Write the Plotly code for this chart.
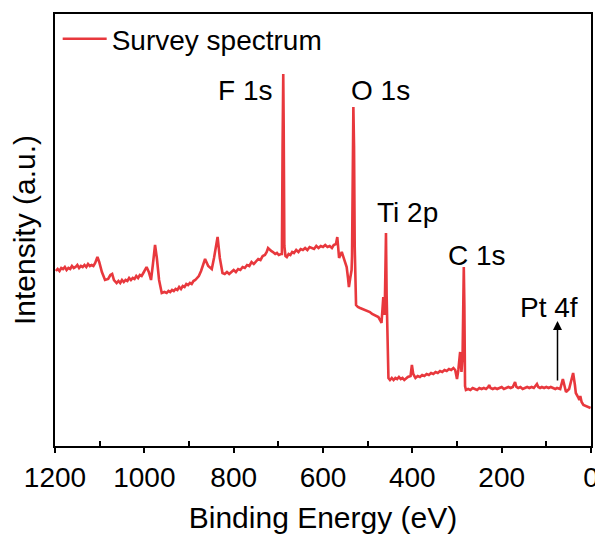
import plotly.graph_objects as go

# Binding energy (eV) and intensity (a.u.)
binding_energy = [
    1198, 1194, 1190, 1186, 1182, 1178, 1174, 1170, 1166, 1162, 1158, 1154, 1150, 1146, 1142, 1138,
    1134, 1130, 1126, 1122, 1118, 1114, 1110, 1107, 1105, 1101, 1095, 1088, 1081, 1076, 1072, 1068,
    1062, 1058, 1054, 1050, 1046, 1042, 1038, 1034, 1030, 1026, 1022, 1018, 1014, 1010, 1006, 1001,
    995, 990, 985, 981, 976, 972, 967, 961, 955, 950, 946, 942, 938, 934, 930, 926,
    922, 918, 914, 910, 906, 902, 898, 894, 890, 886, 882, 878, 873, 864, 857, 849,
    844, 836, 831, 825, 820, 815, 810, 805, 800, 795, 790, 785, 780, 775, 770, 765,
    760, 755, 750, 745, 740, 735, 730, 726, 723, 719, 716, 712, 707, 703, 699, 694,
    692, 690.5, 689, 688, 686.5, 684, 681, 677, 673, 669, 665, 660, 655, 650, 645, 640,
    635, 630, 625, 620, 615, 610, 605, 600, 595, 590, 585, 580, 576, 571, 568, 564,
    558, 553, 547, 544, 542, 539, 536, 535, 533.5, 532, 530.5, 529, 526, 522, 517, 512,
    506, 500, 495, 490, 484, 480, 476, 471, 469, 465, 462, 460.5, 459, 457.5, 456.5, 455,
    453.5, 450, 446, 442, 438, 434, 430, 426, 422, 418, 414, 410, 404, 401, 398, 393,
    388, 383, 378, 373, 368, 363, 358, 353, 348, 343, 338, 333, 328, 323, 318, 313,
    308, 304, 300, 297, 293, 290, 287.5, 286, 284.8, 283.5, 282, 280, 275, 270, 265, 260,
    255, 250, 245, 240, 235, 230, 228, 225, 220, 215, 210, 205, 200, 195, 190, 185,
    180, 175, 172, 170, 167, 163, 158, 153, 148, 143, 138, 133, 128, 124, 121, 118,
    114, 110, 105, 100, 95, 90, 85, 80, 76, 72, 69, 63, 60, 56, 49, 44,
    40, 36, 34, 29, 26, 24, 21, 17, 11, 6, 1]
intensity = [
    175, 177, 175, 178, 177, 179, 176, 178, 177, 180, 178, 179, 181, 178, 180, 179,
    181, 179, 182, 180, 181, 180, 183, 186, 189, 184, 174, 166, 167, 171, 172, 166,
    163, 165, 163, 166, 164, 166, 165, 168, 166, 168, 167, 170, 168, 171, 170, 174,
    179, 174, 166, 181, 201, 188, 166, 153, 154, 153, 155, 154, 156, 155, 157, 156,
    159, 157, 160, 159, 162, 161, 163, 162, 165, 166, 168, 170, 175, 187, 180, 177,
    188, 209, 188, 173, 172, 174, 172, 174, 176, 174, 177, 176, 179, 178, 181, 180,
    184, 182, 185, 187, 186, 190, 191, 194, 198, 196, 195, 194, 192, 193, 191, 192,
    192, 300, 372, 320, 200, 190, 189, 192, 191, 194, 193, 196, 194, 197, 196, 198,
    196, 199, 198, 197, 200, 198, 200, 199, 201, 199, 200, 198, 201, 202, 209, 188,
    194, 188, 179, 168, 159, 168, 176, 190, 300, 339, 300, 200, 141, 139, 138, 137,
    136, 135, 134, 132, 131, 130, 129, 125, 123, 149, 131, 170, 213, 150, 118, 90,
    68, 66, 68, 66, 68, 67, 69, 67, 68, 66, 68, 69, 70, 81, 72, 68,
    70, 69, 71, 70, 72, 71, 73, 72, 74, 73, 75, 74, 76, 75, 77, 76,
    78, 76, 67, 76, 94, 74, 90, 150, 179, 140, 60, 56, 57, 56, 58, 57,
    56, 58, 57, 58, 57, 59, 61, 58, 57, 58, 57, 58, 59, 57, 58, 59,
    58, 59, 62, 64, 59, 58, 59, 57, 58, 59, 58, 59, 58, 60, 62, 59,
    58, 59, 58, 59, 58, 59, 58, 57, 58, 57, 57, 67, 60, 54, 57, 66,
    73, 61, 53, 49, 46, 50, 44, 41, 40, 39, 38]

# Peak labels
peak_labels = ["F 1s", "O 1s", "Ti 2p", "C 1s", "Pt 4f"]
label_be = [775, 472, 410, 255, 94]
label_int = [356, 356, 234, 191, 139]

# Pt 4f arrow (binding energy, tail intensity, head intensity)
arrow_be = 75
arrow_tail = 64
arrow_head = 125

FONT = "Arial, Liberation Sans, sans-serif"

fig = go.Figure()
fig.add_trace(go.Scatter(
    x=binding_energy, y=intensity, mode="lines", name="Survey spectrum",
    line=dict(color="#E8383D", width=2.6),
))

for t, bx, by in zip(peak_labels, label_be, label_int):
    fig.add_annotation(x=bx, y=by, text=t, showarrow=False,
                       font=dict(family=FONT, size=28, color="black"))

fig.add_annotation(x=arrow_be, y=arrow_head, ax=arrow_be, ay=arrow_tail,
                   xref="x", yref="y", axref="x", ayref="y", text="",
                   showarrow=True, arrowhead=2, arrowsize=1.2, arrowwidth=1.5,
                   arrowcolor="black")

fig.update_layout(
    width=603, height=536,
    margin=dict(l=47, r=20, t=6, b=98),
    paper_bgcolor="white", plot_bgcolor="white",
    font=dict(family=FONT, size=28, color="black"),
    showlegend=True,
    legend=dict(x=0.005, y=1.0, xanchor="left", yanchor="top", itemwidth=44,
                bgcolor="rgba(0,0,0,0)", font=dict(size=28)),
    xaxis=dict(
        range=[1200, 0], showline=True, linecolor="black", linewidth=2, mirror=True,
        showgrid=False, zeroline=False, ticks="outside", ticklen=5, tickwidth=2,
        tickcolor="black", tickvals=[0, 200, 400, 600, 800, 1000, 1200],
        tickfont=dict(size=28), automargin=False,
        minor=dict(tickvals=[100, 300, 500, 700, 900, 1100], ticks="inside",
                   ticklen=5, tickwidth=2, tickcolor="black"),
        title=dict(text="Binding Energy (eV)", font=dict(size=30)),
    ),
    yaxis=dict(
        range=[0, 432], showline=True, linecolor="black", linewidth=2, mirror=True,
        showgrid=False, zeroline=False, showticklabels=False, ticks="",
        automargin=False,
        title=dict(text="Intensity (a.u.)", font=dict(size=30)),
    ),
)

fig.write_html("out.html")
